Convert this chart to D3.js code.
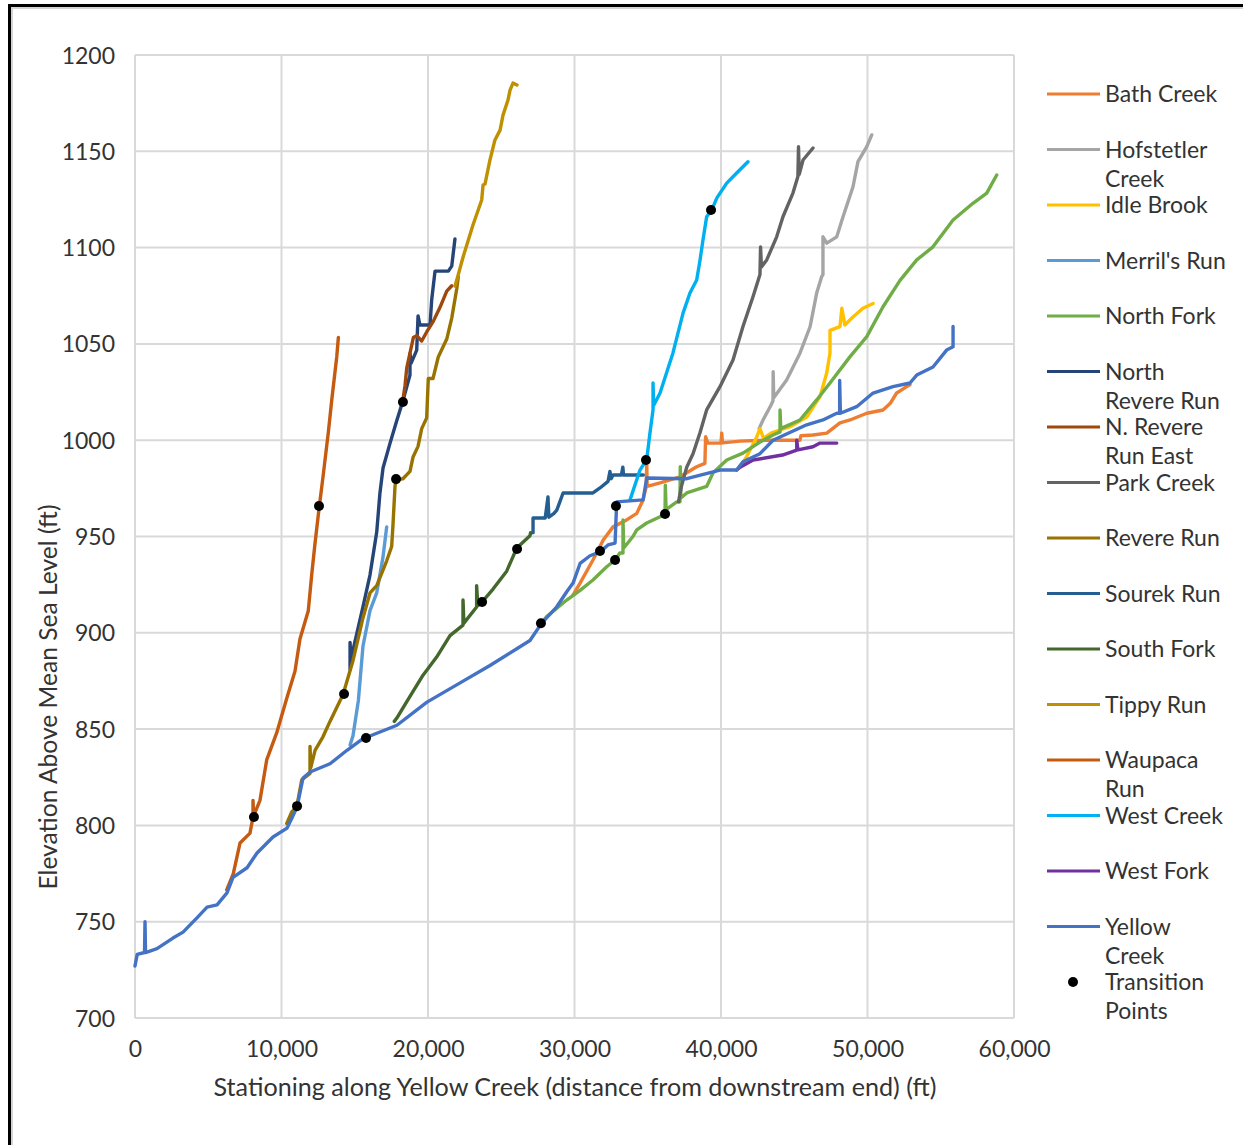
<!DOCTYPE html>
<html>
<head>
<meta charset="utf-8">
<script src="https://cdn.jsdelivr.net/npm/d3@7"></script>
<style>
  html, body { margin: 0; padding: 0; background: #fff; }
  svg { display: block; }
  text { font-family: Lato, "Open Sans", sans-serif; fill: #333; }
</style>
</head>
<body>
<svg id="chart" width="1243" height="1145"></svg>
<script>
// ---------------- data: [station (ft), elevation (ft)] ----------------
const bathCreek = [[29900,919.6],[30380,925.8],[31260,937.8],[31950,948],[32630,955],[33560,958.6],[34250,962],[34680,969],[34900,976],[34930,989],[34960,976],[35840,977.8],[37200,981],[38340,986.2],[38900,988],[38950,1001.8],[39100,998.5],[40000,998.5],[40050,1003.7],[40100,998.6],[41300,999.5],[43100,1000],[45390,1000],[45450,1002.3],[46280,1002.7],[47220,1003.7],[48120,1009],[48810,1010.5],[49950,1014],[51060,1015.7],[51540,1019],[51990,1024.5],[52680,1027.8],[52900,1028.8]];
const hofstetlerCreek = [[42600,1006],[42870,1010.5],[43400,1018],[43550,1020.5],[43560,1035.6],[43600,1022],[44480,1031.3],[45390,1045.2],[46080,1058.9],[46530,1076.4],[46870,1084.9],[46960,1086],[46960,1105.6],[47220,1102.3],[47900,1105.6],[48330,1116],[49010,1131.6],[49350,1144.6],[49950,1152.4],[50290,1158.5]];
const idleBrook = [[41300,986],[41750,991.5],[42400,1001],[42660,1006],[42900,1001],[43500,1004],[44710,1007],[45850,1012],[46760,1022.6],[47215,1034.9],[47440,1045.3],[47440,1057],[48120,1059],[48250,1068.5],[48450,1059.8],[49010,1064],[49690,1068.5],[50380,1071]];
const merrilsRun = [[14680,841.7],[14880,846.6],[15250,865],[15560,893],[16040,911.5],[16500,920.7],[16930,939.4],[17180,955]];
const northFork = [[27760,905],[28100,908.4],[29470,917],[30380,922],[31260,927.4],[32200,934.3],[32770,937.8],[33100,941.4],[33310,941.4],[33310,958.6],[33360,944],[33990,950],[34250,953.4],[34930,957],[35840,960.3],[36180,962],[36200,976.7],[36250,964],[36980,968],[37200,968],[37220,986.2],[37260,970],[37660,972.6],[39020,976],[39450,983],[40390,989.7],[41500,993.3],[42660,999],[43550,1002.7],[44030,1004.3],[44030,1015.7],[44080,1006],[45390,1010.5],[46530,1020.9],[47440,1029.7],[48810,1043.4],[49950,1053.8],[51060,1069.3],[52220,1083],[53360,1093.6],[54470,1100.4],[55840,1114.3],[57200,1123],[58140,1128.3],[58820,1137.7]];
const northRevereRun = [[14680,881],[14680,895],[14750,884],[14880,891],[15560,913.4],[16040,930],[16500,952.3],[16720,972.6],[16930,985.6],[17410,998.5],[17860,1010],[18270,1020],[18770,1033.8],[18770,1045],[18850,1040],[19230,1046.8],[19320,1064.5],[19450,1059.8],[20140,1059.8],[20250,1072.8],[20480,1087.8],[21390,1087.8],[21620,1090.4],[21840,1104.5]];
const nRevereRunEast = [[18270,1020],[18430,1028.3],[18550,1037.5],[19000,1053.3],[19230,1054.3],[19570,1051.5],[19910,1056.2],[20360,1061.7],[20820,1069],[21280,1077.4],[21620,1080.2]];
const parkCreek = [[37100,968],[37300,976],[37660,986],[38090,993],[38570,1004],[39020,1015.7],[39930,1027.8],[40820,1041.6],[41500,1059],[42190,1074.6],[42660,1086],[42700,1100.4],[42760,1090],[43120,1093.6],[43800,1105.6],[44230,1116],[44910,1128.3],[45250,1136.9],[45290,1152.4],[45340,1138],[45600,1145.5],[46280,1151.7]];
const revereRun = [[10360,801],[10700,807],[11040,809.7],[11380,823.6],[11946,827],[11946,841],[12000,830],[12290,839],[12830,846],[13310,854],[14200,868],[14880,885.5],[15560,907.7],[16040,920.7],[16500,924.5],[17180,937.4],[17520,944.8],[17610,956],[17750,976.4],[17860,979.5],[18290,980],[18770,983.8],[18980,991.3],[19320,996.8],[19570,1006],[19910,1011.6],[20020,1032],[20340,1032],[20700,1043.2],[21280,1052.5],[21620,1063.4],[21960,1078.5],[22070,1084.8]];
const sourekRun = [[27000,951.8],[27170,952],[27170,959.6],[28000,959.6],[28190,970.5],[28250,960],[28600,962],[28790,963.7],[29000,968],[29220,972.6],[31260,972.6],[31740,975.2],[32290,978.6],[32420,983.8],[32500,980],[32630,981.9],[33200,981.9],[33300,986],[33350,981.9],[34470,981.9],[34700,981.9]];
const southFork = [[17700,854],[17860,855.6],[18770,867],[19660,878],[20590,887.4],[21500,898.5],[22390,904],[22390,917],[22450,905],[23320,913.4],[23320,924.5],[23400,914],[23690,916],[24440,922.7],[25370,932],[26060,944],[26960,950.4],[27000,951.8]];
const tippyRun = [[21840,1080],[22070,1086],[22390,1095],[23070,1111.7],[23665,1124.7],[23760,1132.5],[23890,1133],[24230,1145.5],[24570,1155.9],[24920,1161],[25120,1168.8],[25460,1176.6],[25600,1181.8],[25800,1185.4],[26075,1184.4]];
const waupacaRun = [[6260,766.5],[6710,775],[7170,790.9],[7850,796],[8055,804.5],[8055,813],[8100,805],[8530,813],[8990,834],[9670,848],[10360,866],[10920,880],[11260,896.8],[11830,911.5],[12060,930],[12290,946.6],[12580,965.6],[12850,982],[13200,1004.3],[13430,1020.9],[13770,1043.2],[13880,1053.3]];
const westCreek = [[33790,969],[34470,984.5],[34930,990],[35150,1003.7],[35360,1015.7],[35360,1029.7],[35400,1018],[35840,1024.5],[36720,1045.3],[37410,1066],[37880,1076.4],[38340,1083.2],[38570,1093.6],[38770,1104],[39020,1116],[39370,1119.5],[39710,1125.7],[40390,1133.5],[41070,1138.7],[41840,1144.6]];
const westFork = [[41070,984.5],[41300,986],[42190,989.7],[44200,992.3],[45170,994.9],[45170,1000],[45250,995],[46280,996.6],[46760,998.5],[47900,998.5]];
const yellowCreek = [[0,727],[150,733],[650,734],[683,750],[720,734],[1500,736],[2590,741.5],[3280,744.6],[4230,752],[4920,757.6],[5600,758.7],[6280,765],[6690,773],[7650,778],[8330,785.7],[9420,794],[10380,798.6],[10720,804],[11060,809.5],[11470,824.6],[11950,827.7],[13310,832],[14470,839],[15560,845],[17880,852],[19930,864],[22190,874],[24230,883],[26960,896],[27760,905],[28790,913.5],[29470,921.3],[29900,925.8],[30380,936],[31060,940],[31740,942],[32290,945.6],[32770,946.6],[32880,968],[34680,969],[34930,980.4],[37660,980],[39930,984.5],[41070,984.5],[41500,988.8],[42660,993],[43550,1000],[45850,1008],[46960,1010.5],[47900,1014],[48100,1014],[48100,1031],[48150,1014],[49260,1017.4],[50380,1024.5],[51740,1027.8],[52900,1029.7],[53360,1033.8],[54470,1038],[55400,1046.8],[55840,1048.5],[55840,1059]];
const transitionPoints = [[8120,804.4],[11060,810],[12560,965.8],[14270,868.2],[15770,845.4],[17820,979.8],[18290,1019.8],[23690,916],[26080,943.5],[27710,905],[31740,942.5],[32770,937.8],[32830,965.8],[34880,989.7],[36180,961.7],[39320,1119.5]];

const seriesNames = ["Bath Creek","Hofstetler Creek","Idle Brook","Merril's Run","North Fork","North Revere Run","N. Revere Run East","Park Creek","Revere Run","Sourek Run","South Fork","Tippy Run","Waupaca Run","West Creek","West Fork","Yellow Creek"];
const seriesData = [bathCreek,hofstetlerCreek,idleBrook,merrilsRun,northFork,northRevereRun,nRevereRunEast,parkCreek,revereRun,sourekRun,southFork,tippyRun,waupacaRun,westCreek,westFork,yellowCreek];
const legendLines = [["Bath Creek"],["Hofstetler","Creek"],["Idle Brook"],["Merril's Run"],["North Fork"],["North","Revere Run"],["N. Revere","Run East"],["Park Creek"],["Revere Run"],["Sourek Run"],["South Fork"],["Tippy Run"],["Waupaca","Run"],["West Creek"],["West Fork"],["Yellow","Creek"],["Transition","Points"]];
const xTicks = [0,10000,20000,30000,40000,50000,60000];
const yTicks = [700,750,800,850,900,950,1000,1050,1100,1150,1200];
const xTitle = "Stationing along Yellow Creek (distance from downstream end) (ft)";
const yTitle = "Elevation Above Mean Sea Level (ft)";

// ---------------- styles ----------------
const colors = ["#ED7D31","#A5A5A5","#FFC000","#5B9BD5","#70AD47","#264478","#9E480E","#636363","#997300","#255E91","#43682B","#BF9000","#C55A11","#00B0F0","#7030A0","#4472C4"];

const svg = d3.select("#chart");
const x = d3.scaleLinear().domain([0, 60000]).range([135, 1014]);
const y = d3.scaleLinear().domain([700, 1200]).range([1018, 55]);
const FS = 23;

// outer frame
svg.append("path").attr("d", "M12,1145 V8 H1243").attr("fill","none").attr("stroke","#d4d4d4").attr("stroke-width",2);
svg.append("path").attr("d", "M9.5,1145 V5.5 H1243").attr("fill","none").attr("stroke","#000").attr("stroke-width",3);

// gridlines
const grid = svg.append("g");
grid.selectAll("line.v").data(xTicks).join("line")
  .attr("x1", d => x(d)).attr("x2", d => x(d)).attr("y1", y(700)).attr("y2", y(1200))
  .attr("stroke", "#d9d9d9").attr("stroke-width", 2);
grid.selectAll("line.h").data(yTicks).join("line")
  .attr("x1", x(0)).attr("x2", x(60000)).attr("y1", d => y(d)).attr("y2", d => y(d))
  .attr("stroke", "#d9d9d9").attr("stroke-width", 2);

// axes
const gy = svg.append("g").attr("transform", `translate(${x(0)},0)`)
  .call(d3.axisLeft(y).tickValues(yTicks).tickFormat(d3.format("d")).tickSize(0).tickPadding(20));
const gx = svg.append("g").attr("transform", `translate(0,${y(700)})`)
  .call(d3.axisBottom(x).tickValues(xTicks).tickFormat(d3.format(",")).tickSize(0).tickPadding(20));
[gx, gy].forEach(g => {
  g.select(".domain").remove();
  g.selectAll("text").attr("font-size", FS).attr("font-family", "Lato").attr("fill", "#333");
});
gy.selectAll("text").attr("dy", "0.35em");
gx.selectAll("text").attr("dy", "0.71em").attr("y", 23);

// titles
svg.append("text").attr("x", 575).attr("y", 1096).attr("text-anchor", "middle")
  .attr("font-size", 25).attr("textLength", 723).attr("lengthAdjust", "spacingAndGlyphs").text(xTitle);
svg.append("text").attr("transform", "translate(57,697) rotate(-90)").attr("text-anchor", "middle")
  .attr("font-size", 24.5).attr("textLength", 385).attr("lengthAdjust", "spacingAndGlyphs").text(yTitle);

// series
const line = d3.line().x(d => x(d[0])).y(d => y(d[1]));
const plot = svg.append("g");
seriesData.forEach((data, i) => {
  plot.append("path").datum(data).attr("d", line).attr("fill", "none")
    .attr("stroke", colors[i]).attr("stroke-width", 3.4)
    .attr("stroke-linejoin", "round").attr("stroke-linecap", "round");
});
plot.selectAll("circle").data(transitionPoints).join("circle")
  .attr("cx", d => x(d[0])).attr("cy", d => y(d[1])).attr("r", 5).attr("fill", "#000");

// legend
const leg = svg.append("g");
legendLines.forEach((lines, i) => {
  const cy = 94 + 55.5 * i;
  if (i < seriesNames.length) {
    leg.append("line").attr("x1", 1047).attr("x2", 1100).attr("y1", cy).attr("y2", cy)
      .attr("stroke", colors[i]).attr("stroke-width", 3.2);
  } else {
    leg.append("circle").attr("cx", 1073).attr("cy", cy).attr("r", 5).attr("fill", "#000");
  }
  lines.forEach((t, k) => {
    leg.append("text").attr("x", 1105).attr("y", cy + 29 * k).attr("dy", "0.35em")
      .attr("font-size", FS).text(t);
  });
});
</script>
</body>
</html>
